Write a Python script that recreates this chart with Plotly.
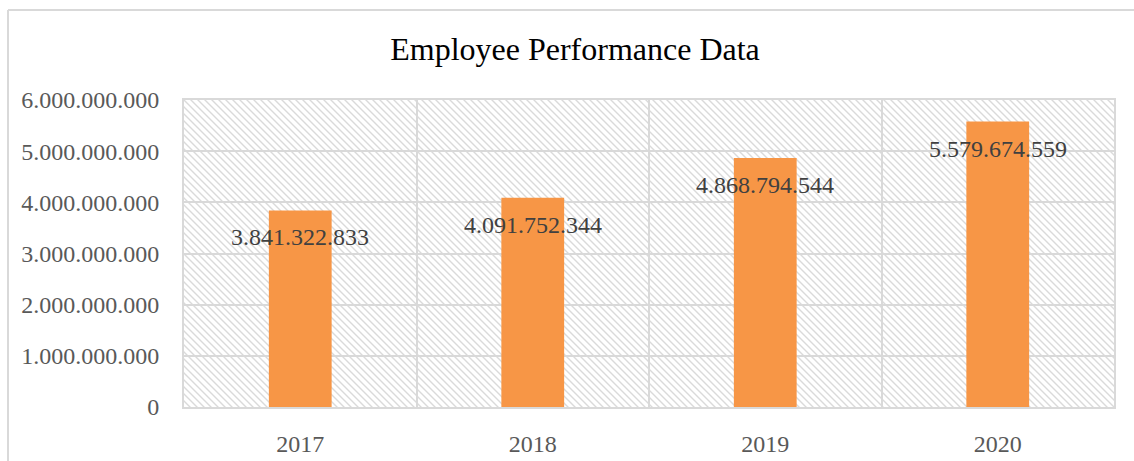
import plotly.graph_objects as go

years = ["2017", "2018", "2019", "2020"]
values = [3841322833, 4091752344, 4868794544, 5579674559]
y_ticks = [0, 1000000000, 2000000000, 3000000000, 4000000000, 5000000000, 6000000000]

W, H = 1134, 461
ML, MR, MT, MB = 184, 20, 100, 54
PW, PH = W - ML - MR, H - MT - MB

FONT = "Liberation Serif, Times New Roman, serif"
GRID = "#d9d9d9"

def fmt(v):
    return f"{v:,}".replace(",", ".")

# hatched background (Excel-like "wide downward diagonal")
P = 7
svg = (
    f"<svg xmlns='http://www.w3.org/2000/svg' width='{PW}' height='{PH}' viewBox='0 0 {PW} {PH}'>"
    f"<defs><pattern id='p' width='{P}' height='{P}' patternUnits='userSpaceOnUse'>"
    f"<path d='M-1,-1 L{P+1},{P+1} M-1,{P-1} L1,{P+1} M{P-1},-1 L{P+1},1' stroke='%23dadada' stroke-width='1.4'/>"
    "</pattern></defs>"
    f"<rect width='{PW}' height='{PH}' fill='white'/>"
    f"<rect width='{PW}' height='{PH}' fill='url(%23p)'/></svg>"
)
svg_uri = "data:image/svg+xml;utf8," + svg.replace("<", "%3C").replace(">", "%3E").replace("'", "%27").replace(" ", "%20")

fig = go.Figure()
fig.add_trace(go.Bar(
    x=years, y=values, width=0.27,
    marker=dict(color="#F79646", line=dict(width=0)),
    hoverinfo="x+y",
))

for i, v in enumerate(values):
    fig.add_annotation(
        x=i, y=v, text=fmt(v), showarrow=False,
        yanchor="middle", yshift=-27,
        font=dict(family=FONT, size=24, color="#404040"),
    )

fig.add_layout_image(dict(
    source=svg_uri, xref="paper", yref="paper", x=0, y=1,
    sizex=1, sizey=1, xanchor="left", yanchor="top",
    sizing="stretch", layer="below",
))

# outer chart border (top and left visible)
fig.add_shape(type="line", xref="paper", yref="paper",
              x0=(8 - ML) / PW, x1=(W + 10 - ML) / PW,
              y0=(H - 10 - MB) / PH, y1=(H - 10 - MB) / PH,
              line=dict(color=GRID, width=2))
fig.add_shape(type="line", xref="paper", yref="paper",
              x0=(8 - ML) / PW, x1=(8 - ML) / PW,
              y0=(H - 10 - MB) / PH, y1=-0.5,
              line=dict(color=GRID, width=2))

fig.update_layout(
    width=W, height=H,
    margin=dict(l=ML, r=MR, t=MT, b=MB, pad=0),
    paper_bgcolor="white", plot_bgcolor="rgba(0,0,0,0)",
    separators=",.",
    showlegend=False,
    title=dict(text="Employee Performance Data", x=575 / W, xref="container", xanchor="center",
               y=1 - 49 / H, yref="container", yanchor="middle",
               font=dict(family=FONT, size=32, color="#000000")),
    xaxis=dict(
        type="category", automargin=False, tickangle=0, range=[-0.5, 3.5],
        tickson="boundaries", showgrid=True, gridcolor=GRID, gridwidth=2,
        showline=True, mirror=True, linecolor=GRID, linewidth=2,
        ticks="", ticklabelstandoff=14,
        tickfont=dict(family=FONT, size=24, color="#595959"),
    ),
    yaxis=dict(
        automargin=False,
        range=[0, 6000000000], tickvals=y_ticks, tickformat=",d",
        showgrid=True, gridcolor=GRID, gridwidth=2, zeroline=False,
        showline=True, mirror=True, linecolor=GRID, linewidth=2,
        ticks="", ticklabelstandoff=18,
        tickfont=dict(family=FONT, size=24, color="#595959"),
    ),
)

fig.write_html("out.html", config={"displayModeBar": False},
               post_script="document.body.style.margin='0';")
